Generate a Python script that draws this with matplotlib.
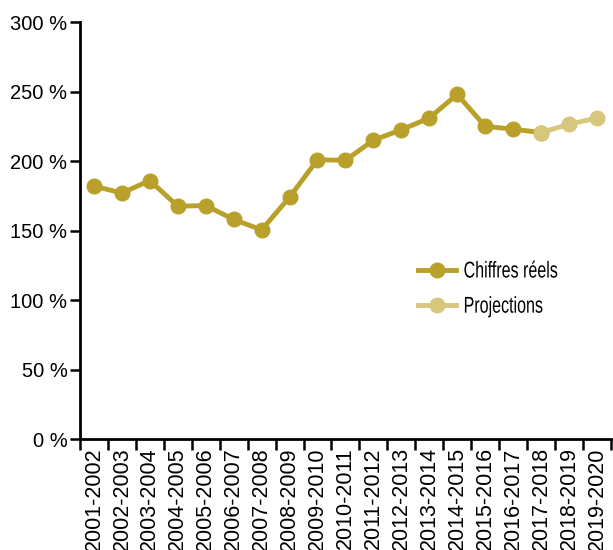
import matplotlib.pyplot as plt
import numpy as np
from matplotlib import patheffects
from matplotlib.transforms import Affine2D

plt.rcParams["font.family"] = "Liberation Sans"


class Squeeze(patheffects.AbstractPathEffect):
    # narrow the text horizontally around its own origin (condensed look)
    def __init__(self, sx):
        super().__init__()
        self.sx = sx

    def draw_path(self, renderer, gc, tpath, affine, rgbFace=None):
        x0, y0 = affine.transform((0, 0))
        aff = affine + Affine2D().translate(-x0, -y0).scale(self.sx, 1).translate(x0, y0)
        renderer.draw_path(gc, tpath, aff, rgbFace)


years = ['2001-2002', '2002-2003', '2003-2004', '2004-2005', '2005-2006',
         '2006-2007', '2007-2008', '2008-2009', '2009-2010', '2010-2011',
         '2011-2012', '2012-2013', '2013-2014', '2014-2015', '2015-2016',
         '2016-2017', '2017-2018', '2018-2019', '2019-2020']
reels = [182, 177, 186, 167.5, 168, 158, 150.5, 174, 201, 200.5,
         215, 222.5, 231, 248, 225, 223, 220.5]
projections = [220.5, 226.5, 231]

c_dark = '#B9A02A'
c_light = '#D7C77D'

fig = plt.figure(figsize=(6.13, 5.5), dpi=100)
ax = fig.add_axes([0.1305, 0.2018, 0.866, 0.758])

x = np.arange(len(years))
ax.plot(x[:len(reels)], reels, '-o', color=c_dark, lw=3.5, markersize=10.5,
        label='Chiffres réels', zorder=3)
ax.plot(x[len(reels) - 1:], projections, '-o', color=c_light, lw=3.5,
        markersize=10.5, label='Projections', zorder=4)

ax.set_xlim(-0.5, len(years) - 0.5)
ax.set_ylim(0, 300)
ax.set_yticks(range(0, 301, 50))
ax.set_yticklabels(['%d %%' % v for v in range(0, 301, 50)], fontsize=14.5)

ax.set_xticks(np.arange(-0.5, len(years), 1))
ax.set_xticklabels([])
ax.set_xticks(x, minor=True)
ax.set_xticklabels(years, minor=True, rotation=90, fontsize=15.5)
ax.tick_params(axis='x', which='minor', length=0, pad=6)
ax.tick_params(axis='x', which='major', length=8, width=1.8)
ax.tick_params(axis='y', length=7, width=1.8, pad=2)

for s in ['top', 'right']:
    ax.spines[s].set_visible(False)
for s in ['left', 'bottom']:
    ax.spines[s].set_linewidth(2)

leg = ax.legend(loc='upper left', bbox_to_anchor=(0.597, 0.48), frameon=False,
                handlelength=1.66, handletextpad=0.35, labelspacing=0.53,
                prop={'size': 16.5})
for t in leg.get_texts():
    t.set_path_effects([Squeeze(0.70)])

fig.savefig('out.png', dpi=100)
